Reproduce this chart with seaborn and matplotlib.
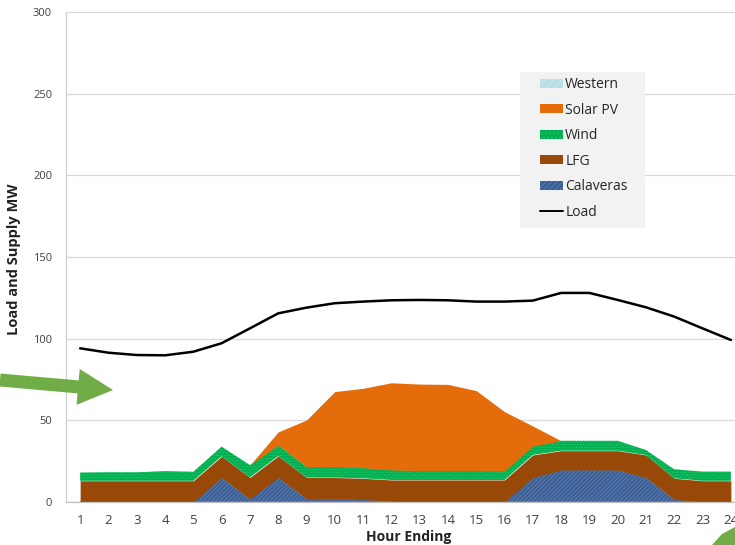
import matplotlib
matplotlib.use("Agg")
import matplotlib.pyplot as plt
from matplotlib.patches import Patch, FancyArrow, Polygon, Rectangle
from matplotlib.lines import Line2D
from matplotlib.transforms import Affine2D
import numpy as np
import pandas as pd
import seaborn as sns

# Hourly supply by resource and system load (MW)
hours = list(range(1, 25))
calaveras = [0, 0, 0, 0, 0, 15, 1.8, 15, 2, 2, 1.5, 0.5, 0, 0, 0, 0, 15, 19.6, 19.6, 19.6, 15, 1.6, 0, 0]
lfg = [13, 13, 13, 13, 13, 13, 13.2, 13.2, 13, 13, 13, 13, 13.5, 13.5, 13.5, 13.5, 13.8, 11.8, 11.8, 11.8, 13.8, 12.9, 13, 13]
wind = [5, 5.2, 5.2, 5.9, 5.5, 5.9, 7.6, 6.7, 6.6, 6.6, 6.5, 6.1, 5.7, 5.7, 5.7, 5.5, 5.5, 6.1, 6.1, 6.1, 3, 5.5, 5.6, 5.6]
solar = [0, 0, 0, 0, 0, 0, 0, 8, 28.6, 46, 48.6, 53.4, 53, 52.8, 49, 36.3, 12.2, 0, 0, 0, 0, 0, 0, 0]
western = [0] * 24
load = [94.1, 91.4, 90, 89.8, 92, 97.2, 106.3, 115.5, 119, 121.7, 122.7, 123.5,
        123.7, 123.5, 122.7, 122.7, 123.3, 128, 128, 123.7, 119.2, 113.5, 106.3, 99.2]
series_names = ["Western", "Solar PV", "Wind", "LFG", "Calaveras", "Load"]

df = pd.DataFrame({"Hour": hours, "Load": load})

sns.set_theme(style="white")
plt.rcParams["font.family"] = ["Open Sans", "DejaVu Sans"]
plt.rcParams["hatch.linewidth"] = 0.5

W, H = 735, 545
fig = plt.figure(figsize=(W / 100, H / 100), dpi=100)
ax = fig.add_axes([66 / W, 43 / H, 679 / W, 490 / H])
# pixel coordinates measured from the top-left corner
px = Affine2D().scale(1, -1).translate(0, H)

c_cal = "#3b5f95"
c_lfg = "#984807"
c_wind = "#00b050"
c_solar = "#e46c0a"
c_west = "#b7dee8"

polys = ax.stackplot(hours, calaveras, lfg, wind, solar, western,
                     colors=[c_cal, c_lfg, c_wind, c_solar, c_west], lw=0, zorder=2)
polys[0].set_hatch("////////")
polys[0].set_edgecolor("#6585b5")
polys[0].set_linewidth(0.6)
polys[2].set_hatch("......")
polys[2].set_edgecolor("#35c874")
polys[2].set_linewidth(0)

sns.lineplot(data=df, x="Hour", y="Load", color="black", lw=1.8, ax=ax, zorder=3)

ax.set_xlim(0.5, 24.5)
ax.set_ylim(0, 300)
ax.set_yticks(range(0, 301, 50))
ax.set_xticks(hours)
ax.set_xticks(np.arange(0.5, 25, 1), minor=True)
ax.tick_params(axis="x", which="major", length=0, labelsize=9.5, labelcolor="#404040", pad=9)
ax.tick_params(axis="x", which="minor", length=4, color="#bfbfbf", width=0.8, direction="out")
ax.tick_params(axis="y", length=4, color="#bfbfbf", labelsize=8, labelcolor="#404040", pad=6)
ax.grid(axis="y", color="#d9d9d9", lw=0.9, zorder=0)
ax.set_axisbelow(True)
for s in ["top", "right"]:
    ax.spines[s].set_visible(False)
ax.spines["left"].set_color("#d0d0d0")
ax.spines["bottom"].set_color("#bfbfbf")
ax.spines["left"].set_linewidth(0.9)
ax.spines["bottom"].set_linewidth(0.9)

ax.set_xlabel("Hour Ending", fontsize=10, fontweight="bold", color="#222222")
ax.set_ylabel("Load and Supply MW", fontsize=10.5, fontweight="bold", color="#222222")
ax.xaxis.set_label_coords((409 - 66) / 679, -0.058)
ax.yaxis.set_label_coords(-0.067, 0.495)

# legend panel
fig.add_artist(Rectangle((520, 72), 125, 156, transform=px, facecolor="#f2f2f2",
                         lw=0, zorder=4))
handles = [
    Patch(facecolor=c_west, hatch="////", edgecolor="#d6eef4", lw=0),
    Patch(facecolor=c_solar, lw=0),
    Patch(facecolor=c_wind, hatch="....", edgecolor="#35c874", lw=0),
    Patch(facecolor=c_lfg, lw=0),
    Patch(facecolor=c_cal, hatch="//////", edgecolor="#6585b5", lw=0),
    Line2D([0], [0], color="black", lw=1.4),
]
leg = fig.legend(handles, series_names, loc="upper left",
                 bbox_to_anchor=(536 / W, 1 - 73 / H),
                 frameon=False, fontsize=10, labelspacing=0.755, handlelength=1.65,
                 handleheight=0.6, handletextpad=0.15, borderpad=0.3, borderaxespad=0)
leg.set_zorder(5)
for t in leg.get_texts():
    t.set_color("#262626")

# pointer arrow on the left
arrow = FancyArrow(0, 380, 113, 10, width=13, head_width=36, head_length=35,
                   length_includes_head=True, color="#70ad47", lw=0, zorder=10)
arrow.set_transform(px)
fig.add_artist(arrow)

corner = Polygon([[735, 545], [712, 545], [722, 534], [735, 527]], closed=True,
                 facecolor="#70ad47", lw=0, transform=px, zorder=10)
fig.add_artist(corner)

fig.savefig("out.png", dpi=100)
